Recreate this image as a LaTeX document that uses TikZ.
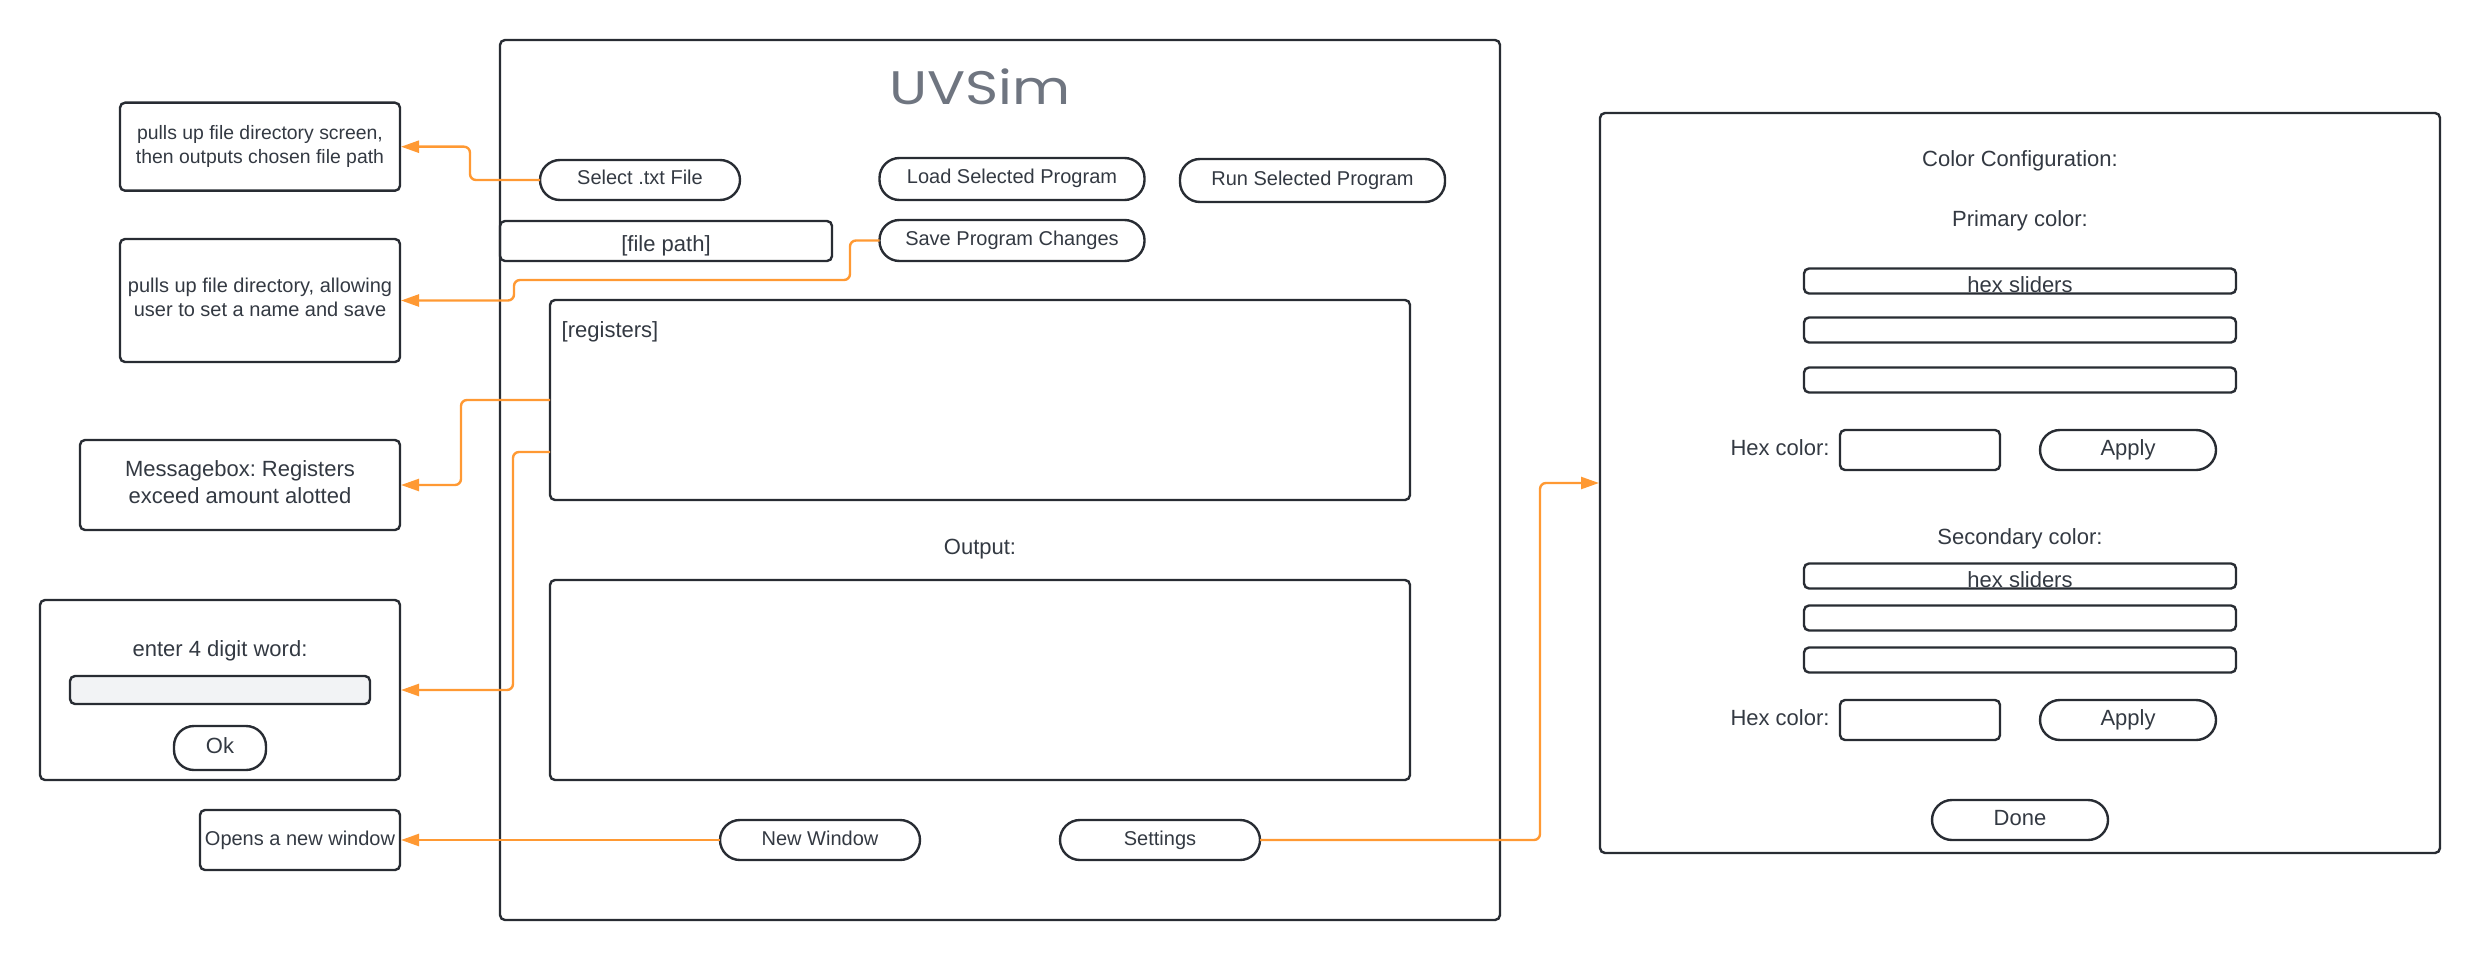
\documentclass[tikz,border=0pt]{standalone}
\usepackage{fontspec}
\setmainfont{Liberation Sans}
\newfontfamily\logofont{Poppins}
\usetikzlibrary{arrows.meta}
\definecolor{ink}{HTML}{282C33}
\definecolor{txt}{HTML}{333942}
\definecolor{wire}{HTML}{FF9933}
\definecolor{logo}{HTML}{6F7580}
\definecolor{inputfill}{HTML}{F2F3F5}
\tikzset{
  x=1pt,y=-1pt,
  shape base/.style={rectangle,draw=ink,line width=2.4pt,inner sep=0pt,outer sep=0pt,text=txt,align=center},
  box/.style={shape base,rounded corners=5pt},
  pill/.style={shape base,rounded corners=20pt},
  sm/.style={font=\fontsize{19.4}{24}\selectfont},
  nt/.style={font=\fontsize{20}{24}\selectfont},
  md/.style={font=\fontsize{20}{26}\selectfont,text height=15pt,text depth=5pt},
  lg/.style={font=\fontsize{22}{27}\selectfont,text height=16pt,text depth=6pt},
  sz/.style 2 args={minimum width=#1pt,minimum height=#2pt},
  label text/.style={inner sep=0pt,outer sep=0pt,text=txt,align=center,font=\fontsize{22}{27}\selectfont},
  wired/.style={draw=wire,line width=2.4pt,rounded corners=6pt,-{Triangle[length=18pt,width=12pt]},shorten >=1pt}
}
\begin{document}
\frenchspacing
\begin{tikzpicture}
\useasboundingbox (0,0) rectangle (2480,960);
% frames
\node[box,sz={1000}{880}] (main) at (1000,480) {};
\node[box,sz={840}{740}] (cfg) at (2020,483) {};
% title
\node[inner sep=0pt,text=logo,font=\logofont\fontsize{47}{47}\selectfont] (title) at (980,86.5) {\scalebox{1.2}[1]{UVSim}};
% left notes
\node[box,sm,sz={280}{88}] (note1) at (260,146.7) {pulls up file directory screen,\\then outputs chosen file path};
\node[box,nt,sz={280}{123}] (note2) at (260,300.5) {pulls up file directory, allowing\\user to set a name and save\\[-18pt]};
\node[box,font=\fontsize{22}{27}\selectfont,sz={320}{90}] (note3) at (240,485) {Messagebox: Registers\\exceed amount alotted\\[-21pt]};
\node[box,sz={360}{180}] (note4) at (220,690) {};
\node[label text] (prompt) at (220,650.5) {enter 4 digit word:};
\node[box,sz={300}{28},fill=inputfill] (wordin) at (220,690) {};
\node[pill,lg,sz={92}{44}] (ok) at (220,748) {Ok};
\node[box,nt,sz={200}{60}] (note5) at (300,840) {Opens a new window};
% main window controls
\node[pill,md,sz={200}{40}] (select) at (640,180) {Select .txt File};
\node[pill,md,sz={265}{42}] (load) at (1012,179) {Load Selected Program};
\node[pill,md,sz={265}{43}] (run) at (1312.5,180.5) {Run Selected Program};
\node[pill,md,sz={265}{41}] (save) at (1012,240.5) {Save Program Changes};
\node[box,font=\fontsize{22}{27}\selectfont,text height=27pt,text depth=6pt,sz={332}{40}] (path) at (666,241) {[file path]};
\node[box,sz={860}{200}] (regs) at (980,400) {};
\node[label text] (regstxt) at (610,331.5) {[registers]};
\node[label text] (outlabel) at (980,549) {Output:};
\node[box,sz={860}{200}] (out) at (980,680) {};
\node[pill,md,sz={200}{40}] (newwin) at (820,840) {New Window};
\node[pill,md,sz={200}{40}] (settings) at (1160,840) {Settings};
% config window
\node[label text] (cfgtitle) at (2020,160.5) {Color Configuration:};
\node[label text] (primary) at (2020,221) {Primary color:};
\node[box,sz={432}{25}] (p1) at (2020,281) {};
\node[label text] (p1txt) at (2020,284.5) {hex sliders};
\node[box,sz={432}{25}] (p2) at (2020,330) {};
\node[box,sz={432}{25}] (p3) at (2020,380) {};
\node[label text] (hex1) at (1780,448) {Hex color:};
\node[box,sz={160}{40}] (hexin1) at (1920,450) {};
\node[pill,lg,sz={176}{40}] (apply1) at (2128,450) {Apply};
\node[label text] (secondary) at (2020,539) {Secondary color:};
\node[box,sz={432}{25}] (s1) at (2020,576) {};
\node[label text] (s1txt) at (2020,579.5) {hex sliders};
\node[box,sz={432}{25}] (s2) at (2020,618) {};
\node[box,sz={432}{25}] (s3) at (2020,660) {};
\node[label text] (hex2) at (1780,718) {Hex color:};
\node[box,sz={160}{40}] (hexin2) at (1920,720) {};
\node[pill,lg,sz={176}{40}] (apply2) at (2128,720) {Apply};
\node[pill,lg,sz={176}{40}] (done) at (2020,820) {Done};
% connectors
\coordinate (regslow) at (550,452);
\draw[wired] (select.west) -- (470,180) -- (470,146.7) -- (note1.east);
\draw[wired] (save.west) -- (850,240.5) -- (850,280) -- (514,280) -- (514,300.5) -- (note2.east);
\draw[wired] (regs.west) -- (461,400) -- (461,485) -- (note3.east);
\draw[wired] (regslow) -- (513,452) -- (513,690) -- (note4.east);
\draw[wired] (newwin.west) -- (note5.east);
\draw[wired] (settings.east) -- (1540,840) -- (1540,483) -- (cfg.west);
\end{tikzpicture}
\end{document}
